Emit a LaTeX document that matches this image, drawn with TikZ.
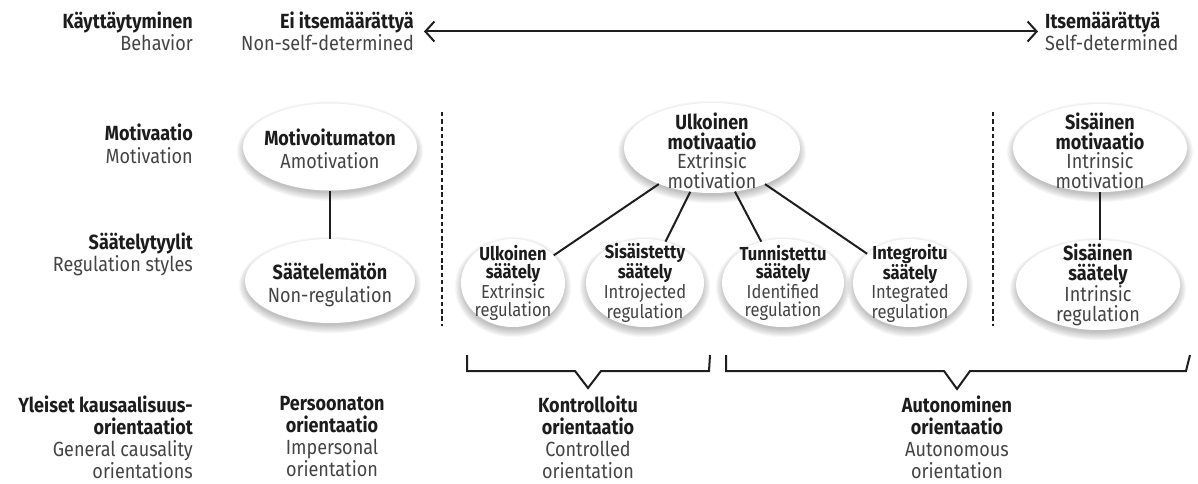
\documentclass[tikz,border=0pt]{standalone}
\usepackage{fontspec}
\setmainfont{Fira Sans}[FakeStretch=0.88]
\usetikzlibrary{shapes.geometric,arrows.meta,calc}
\definecolor{txtb}{HTML}{1C1C1C}
\definecolor{txtr}{HTML}{444444}
\definecolor{linec}{HTML}{1E1E1E}
\newcommand\hb[1]{{\bfseries\color{txtb}#1}}
\pgfdeclarelayer{bg}
\pgfsetlayers{bg,main}
\tikzset{
  lbl/.style={align=center, inner sep=0pt, text=txtr, font=\fontsize{20.5}{22.5}\selectfont},
  lblr/.style={lbl, align=right},
  blbl/.style={align=center, inner sep=0pt, text=txtr, font=\fontsize{20.5}{22}\selectfont},
  ctext/.style={align=center, inner sep=0pt, text=txtr, font=\fontsize{20.5}{19.5}\selectfont},
  stext/.style={align=center, inner sep=0pt, text=txtr, font=\fontsize{18.8}{18}\selectfont},
  ell/.style={ellipse, fill=white, draw=none, inner sep=0pt},
  conn/.style={draw=linec, line width=2pt},
  sep/.style={draw=linec, line width=2pt, dash pattern=on 4.5pt off 2.8pt},
  brace/.style={draw=linec, line width=2pt, line join=miter},
}
\begin{document}
\begin{tikzpicture}[x=1pt,y=-1pt]
\useasboundingbox (0,0) rectangle (1198,484);
% row labels
\node[lblr, anchor=east] (r1) at (193,31.5) {\hb{Käyttäytyminen}\\Behavior};
\node[lblr, anchor=east] (r2) at (193,144) {\hb{Motivaatio}\\Motivation};
\node[lblr, anchor=east] (r3) at (193,254.5) {\hb{Säätelytyylit}\\Regulation styles};
\node[blbl, align=right, anchor=east] (r4) at (193,437) {\hb{Yleiset kausaalisuus-}\\\hb{orientaatiot}\\General causality\\orientations};
% top row
\node[lblr, anchor=east] (ei) at (414,31.5) {\hb{Ei itsemäärättyä}\\Non-self-determined};
\node[lbl, align=left, anchor=west] (it) at (1045,31.5) {\hb{Itsemäärättyä}\\Self-determined};
\draw[conn, {Straight Barb[length=9pt,width=20pt,line width=2pt]}-{Straight Barb[length=9pt,width=20pt,line width=2pt]}, shorten <=10pt, shorten >=7pt] (ei.east) -- (it.west);
% ellipses
\node[ell, minimum width=174pt, minimum height=87pt] (am) at (330,147) {};
\node[ell, minimum width=170pt, minimum height=84pt] (nr) at (330,281) {};
\node[ell, minimum width=176pt, minimum height=90pt] (em) at (712,148) {};
\node[ell, minimum width=104pt, minimum height=88pt] (es) at (513,283) {};
\node[ell, minimum width=118pt, minimum height=88pt] (is) at (645,283) {};
\node[ell, minimum width=122pt, minimum height=88pt] (ids) at (783,283) {};
\node[ell, minimum width=114pt, minimum height=88pt] (ins) at (910,283) {};
\node[ell, minimum width=174pt, minimum height=88pt] (im) at (1100,148) {};
\node[ell, minimum width=164pt, minimum height=90pt] (irs) at (1098,285) {};
\begin{pgfonlayer}{bg}
\foreach \e in {am,nr,em,es,is,ids,ins,im,irs}{
  \foreach \k in {1,...,10}{
    \fill[black, opacity=0.028] let \p1=(\e.center), \p2=(\e.east), \p3=(\e.north) in
      (\x1,\y1-4pt) ellipse [x radius={\x2-\x1-3pt+\k*0.9pt}, y radius={\y3-\y1-3pt+\k*0.9pt}];
  }
}
\end{pgfonlayer}
% ellipse texts
\node[lbl] (amt) at ([yshift=-2pt]am.center) {\hb{Motivoitumaton}\\Amotivation};
\node[lbl] (nrt) at ([yshift=-4pt]nr.center) {\hb{Säätelemätön}\\Non-regulation};
\node[ctext] (emt) at ([yshift=-3pt]em.center) {\hb{Ulkoinen}\\\hb{motivaatio}\\Extrinsic\\motivation};
\node[ctext] (imt) at ([yshift=-3pt]im.center) {\hb{Sisäinen}\\\hb{motivaatio}\\Intrinsic\\motivation};
\node[stext] (est) at (es.center) {\hb{Ulkoinen}\\\hb{säätely}\\Extrinsic\\regulation};
\node[stext] (ist) at (is.center) {\hb{Sisäistetty}\\\hb{säätely}\\Introjected\\regulation};
\node[stext] (idt) at (ids.center) {\hb{Tunnistettu}\\\hb{säätely}\\Identified\\regulation};
\node[stext] (int) at (ins.center) {\hb{Integroitu}\\\hb{säätely}\\Integrated\\regulation};
\node[ctext] (irt) at (irs.center) {\hb{Sisäinen}\\\hb{säätely}\\Intrinsic\\regulation};
% connectors
\draw[conn] (am) -- (nr);
\draw[conn] (im.south) -- (im.south |- irs.north);
\draw[conn] (em) -- (es);
\draw[conn] (em) -- (is);
\draw[conn] (em) -- (ids);
\draw[conn] (em) -- (ins);
% dashed separators
\coordinate (d1a) at (442,112); \coordinate (d1b) at (442,326);
\coordinate (d2a) at (993,112); \coordinate (d2b) at (993,326);
\draw[sep] (d1a) -- (d1b);
\draw[sep] (d2a) -- (d2b);
% braces
\draw[brace] (467,355) -- (467,371) -- (575,371) -- (588,388) -- (601,371) -- (709,371) -- (710,355);
\draw[brace] (726,355) -- (726,371) -- (944,371) -- (957,389) -- (970,371) -- (1186,371) -- (1190,355);
% bottom texts
\node[blbl] (po) at (332,437) {\hb{Persoonaton}\\\hb{orientaatio}\\Impersonal\\orientation};
\node[blbl] (ko) at (588,437) {\hb{Kontrolloitu}\\\hb{orientaatio}\\Controlled\\orientation};
\node[blbl] (ao) at (957,437) {\hb{Autonominen}\\\hb{orientaatio}\\Autonomous\\orientation};
\end{tikzpicture}
\end{document}
